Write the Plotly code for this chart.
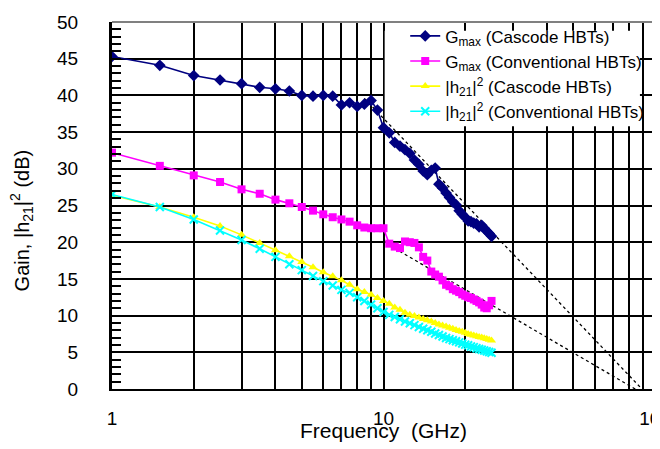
import plotly.graph_objects as go

# ---------------- data ----------------
freq_ghz = [1, 1.5, 2, 2.5, 3, 3.5, 4, 4.5, 5, 5.5, 6, 6.5, 7, 7.5, 8, 8.5, 9, 9.5,
            10, 10.5, 11, 11.5, 12, 12.5, 13, 13.5, 14, 14.5, 15, 15.5, 16, 16.5,
            17, 17.5, 18, 18.5, 19, 19.5, 20, 20.5, 21, 21.5, 22, 22.5, 23, 23.5,
            24, 24.5, 25]

gmax_cascode = [45.3, 44.1, 42.7, 42.1, 41.6, 41.1, 40.9, 40.6, 40.0, 39.9,
                40.0, 39.9, 38.7, 39.0, 38.5, 38.8, 39.3, 38.0, 35.6, 34.9,
                33.6, 33.1, 32.6, 32.1, 31.2, 30.6, 29.7, 29.2, 29.8, 30.1,
                27.9, 27.4, 26.7, 26.1, 25.5, 25.1, 24.3, 23.8, 23.4, 22.9,
                22.8, 22.6, 22.5, 22.1, 22.3, 21.9, 21.5, 21.2, 20.8]

gmax_conventional = [32.2, 30.4, 29.1, 28.2, 27.2, 26.6, 25.8, 25.3, 24.8, 24.3,
                     23.8, 23.4, 23.1, 22.8, 22.3, 22.0, 21.9, 21.9, 21.9, 19.8,
                     19.4, 19.2, 20.1, 20.0, 19.9, 19.3, 18.0, 17.5, 16.0, 15.6,
                     15.3, 14.8, 14.2, 14.0, 13.6, 13.4, 13.2, 12.9, 12.7, 12.5,
                     12.4, 12.2, 12.0, 11.8, 11.5, 11.1, 11.0, 11.4, 12.0]

h21_cascode = [26.4, 24.8, 23.4, 22.2, 21.0, 19.9, 18.9, 18.1, 17.3, 16.6,
               15.9, 15.35, 14.8, 14.2, 13.6, 13.2, 12.85, 12.4, 12.0, 11.6,
               11.1, 10.8, 10.4, 10.1, 9.95, 9.75, 9.55, 9.35, 9.2, 9.0,
               8.8, 8.65, 8.5, 8.35, 8.2, 8.05, 7.9, 7.8, 7.65, 7.5,
               7.4, 7.3, 7.2, 7.1, 7.0, 6.9, 6.8, 6.7, 6.6]

h21_conventional = [26.5, 24.8, 23.1, 21.6, 20.3, 19.1, 18.0, 17.0, 16.2, 15.4,
                    14.7, 14.1, 13.5, 13.1, 12.5, 12.0, 11.5, 11.0, 10.5, 10.1,
                    9.8, 9.5, 9.2, 8.95, 8.7, 8.45, 8.2, 8.0, 7.8, 7.55,
                    7.35, 7.15, 6.95, 6.8, 6.65, 6.5, 6.35, 6.2, 6.05, 5.95,
                    5.8, 5.7, 5.55, 5.45, 5.35, 5.25, 5.15, 5.05, 4.95]

# extrapolation (dotted) lines: end points
extrap_cascode_f = [8.5, 95]
extrap_cascode_g = [39.6, -1.0]
extrap_conventional_f = [10.5, 95]
extrap_conventional_g = [19.6, -1.1]

x_tickvals = [1, 10, 100]
x_ticktext = ["1", "10", "100"]
x_minor_gridvals = [2, 3, 4, 5, 6, 7, 8, 9, 20, 30, 40, 50, 60, 70, 80, 90]
y_tickvals = [0, 5, 10, 15, 20, 25, 30, 35, 40, 45, 50]

FONT = "Liberation Sans, Arial, sans-serif"

fig = go.Figure()

fig.add_trace(go.Scatter(x=extrap_cascode_f, y=extrap_cascode_g, mode="lines",
                         line=dict(color="black", width=1.3, dash="dot"),
                         showlegend=False, hoverinfo="skip"))
fig.add_trace(go.Scatter(x=extrap_conventional_f, y=extrap_conventional_g, mode="lines",
                         line=dict(color="black", width=1.3, dash="dot"),
                         showlegend=False, hoverinfo="skip"))

fig.add_trace(go.Scatter(x=freq_ghz, y=gmax_cascode, mode="lines+markers",
                         name="G<sub>max</sub> (Cascode HBTs)",
                         line=dict(color="#000080", width=1.6),
                         marker=dict(symbol="diamond", size=9, color="#000080")))
fig.add_trace(go.Scatter(x=freq_ghz, y=gmax_conventional, mode="lines+markers",
                         name="G<sub>max</sub> (Conventional HBTs)",
                         line=dict(color="#FF00FF", width=1.6),
                         marker=dict(symbol="square", size=8, color="#FF00FF")))
fig.add_trace(go.Scatter(x=freq_ghz, y=h21_cascode, mode="lines+markers",
                         name="|h<sub>21</sub>|<sup>2</sup> (Cascode HBTs)",
                         line=dict(color="#FFFF00", width=1.6),
                         marker=dict(symbol="triangle-up", size=8, color="#FFFF00")))
fig.add_trace(go.Scatter(x=freq_ghz, y=h21_conventional, mode="lines+markers",
                         name="|h<sub>21</sub>|<sup>2</sup> (Conventional HBTs)",
                         line=dict(color="#00FFFF", width=1.6),
                         marker=dict(symbol="x-thin", size=8, color="#00FFFF",
                                     line=dict(color="#00FFFF", width=2))))

fig.update_layout(
    width=660, height=449,
    margin=dict(l=104, r=13, t=14, b=68, autoexpand=False),
    paper_bgcolor="white", plot_bgcolor="white",
    font=dict(family=FONT, color="black"),
    xaxis=dict(type="log", range=[0, 2], tickmode="array",
               tickvals=x_tickvals, ticktext=x_ticktext,
               showgrid=True, gridcolor="black", gridwidth=2,
               minor=dict(tickmode="array", tickvals=x_minor_gridvals,
                          showgrid=True, gridcolor="black", gridwidth=2, ticks=""),
               showline=True, linecolor="black", linewidth=2,
               ticks="", tickfont=dict(size=19, family=FONT, color="black"),
               ticklabelstandoff=11, ticklabeloverflow="allow", zeroline=False),
    yaxis=dict(range=[0, 50], tickmode="array", tickvals=y_tickvals,
               showgrid=True, gridcolor="black", gridwidth=2,
               showline=True, linecolor="black", linewidth=3,
               ticks="inside", ticklen=9, tickwidth=1.5, tickcolor="black",
               minor=dict(ticks="inside", ticklen=9, tickwidth=1.5,
                          tickcolor="black", dtick=1, showgrid=False),
               tickfont=dict(size=19, family=FONT, color="black"),
               ticklabelstandoff=27, ticklabeloverflow="allow", zeroline=False),
    legend=dict(x=0.54, y=1.01, xanchor="left", yanchor="top",
                bgcolor="rgba(0,0,0,0)", borderwidth=0,
                font=dict(size=17, family=FONT, color="black"),
                tracegroupgap=0),
    shapes=[
        dict(type="rect", xref="x", yref="y", x0=10.1, x1=88, y0=35.8, y1=48.8,
             layer="between", fillcolor="white", line=dict(width=0)),
        dict(type="line", xref="paper", yref="paper", x0=0, x1=1, y0=1, y1=1,
             line=dict(color="#808080", width=2)),
        dict(type="line", xref="paper", yref="paper", x0=1, x1=1, y0=0, y1=1,
             line=dict(color="#808080", width=2)),
    ],
    annotations=[
        dict(text="Frequency  (GHz)", xref="paper", yref="paper",
             x=0.5, y=-0.112, xanchor="center", yanchor="middle",
             showarrow=False, font=dict(size=21, family=FONT, color="black")),
        dict(text="Gain, |h<sub>21</sub>|<sup>2</sup> (dB)", xref="paper", yref="paper",
             x=-0.165, y=0.4605, xanchor="center", yanchor="middle", textangle=-90,
             showarrow=False, font=dict(size=20, family=FONT, color="black")),
    ],
)

fig.write_html("out.html")
